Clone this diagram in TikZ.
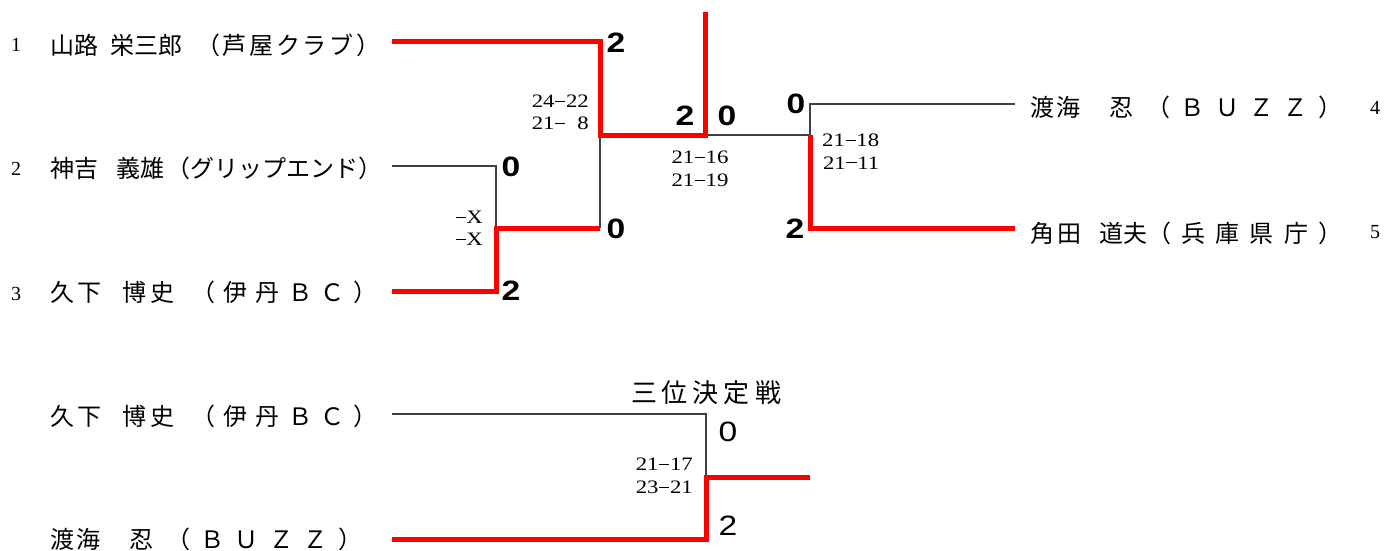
\documentclass[tikz,border=0pt]{standalone}
\usepackage{fontspec}
\usepackage{tikz}
\usetikzlibrary{calc}

\newfontfamily\jfont{Noto Sans CJK JP}
\newfontfamily\seedfont{Liberation Serif}
\newfontfamily\gamesfont{Liberation Serif}[FakeStretch=1.2]
\newfontfamily\ptsfont{Liberation Sans}[FakeStretch=1.2]

% spread the characters of #2 evenly over a box of width #1
\makeatletter
\newcommand\spreadbox[2]{\makebox[#1][s]{\@tfor\sp@ch:=#2\do{\sp@ch\hfil}\unskip}}
\makeatother
% name in a box of width #1, then the club spread over #3
\newcommand\entry[4]{\makebox[#1][l]{#2}\spreadbox{#3}{#4}}
% long dash of the game scores
\newcommand\gdash{\kern0.6pt\rule[5.6pt]{10.2pt}{1.2pt}\kern0.6pt}

\begin{document}
\begin{tikzpicture}[x=1pt, y=-1pt,
  win/.style={draw=red, line width=5pt},
  lose/.style={draw=black!75, line width=1.2pt},
  player/.style={anchor=base west, inner sep=0pt, font=\jfont\fontsize{24}{24}\selectfont},
  seed/.style={anchor=base, inner sep=0pt, font=\seedfont\fontsize{20}{20}\selectfont},
  pts/.style={inner sep=0pt, font=\ptsfont\bfseries\fontsize{28}{28}\selectfont},
  games/.style={inner sep=0pt, align=right, font=\gamesfont\fontsize{19}{22.5}\selectfont},
]
  \useasboundingbox (0,0) rectangle (1390,551);

  % Players.
  \node[player] (p1) at (50,55)   {\entry{146pt}{山路\kern12pt栄三郎}{184pt}{（芦屋クラブ）}};
  \node[player] (p2) at (50,177)  {\entry{116pt}{神吉\kern18pt義雄}{214pt}{（グリップエンド）}};
  \node[player] (p3) at (50,301)  {\entry{141pt}{久\kern3pt下\kern21pt博\kern4pt史}{186pt}{（伊丹ＢＣ）}};
  \node[player] (p4) at (1030,117) {\entry{116pt}{\spreadbox{103pt}{渡海　忍}}{196pt}{（ＢＵＺＺ）}};
  \node[player] (p5) at (1030,242) {\entry{117pt}{角\kern3pt田\kern18pt道夫}{195pt}{（兵庫県庁）}};
  \node[player] (p6) at (50,425)  {\entry{141pt}{久\kern3pt下\kern21pt博\kern4pt史}{186pt}{（伊丹ＢＣ）}};
  \node[player] (p7) at (50,548)  {\entry{116pt}{\spreadbox{103pt}{渡海　忍}}{196pt}{（ＢＵＺＺ）}};
  \foreach \x/\y/\t in {16/52/1, 16/175/2, 16/300/3, 1375/114/4, 1375/238/5}
    \node[seed] (s\t) at (\x,\y) {\t};

  % Line ends and junctions.
  \coordinate (e1) at (392,42);
  \coordinate (e2) at (392,166);
  \coordinate (e3) at (392,291);
  \coordinate (e4) at (1015,104);
  \coordinate (e5) at (1015,228);
  \coordinate (e6) at (392,414);
  \coordinate (e7) at (392,539);
  \coordinate (j23) at (496,228);
  \coordinate (j1) at (600,135);
  \coordinate (jf) at (705,135);
  \coordinate (j45) at (810,135);
  \coordinate (top) at (705,12);
  \coordinate (j67) at (706,477);
  \coordinate (w67) at (810,477);

  % Lost paths first, won paths on top.
  \draw[lose] (e2) -| (j23);
  \draw[lose] (j23 -| j1) -- (j1);
  \draw[lose] (jf) -- (j45) |- (e4);
  \draw[lose] (e6) -| (j67);
  \draw[win] (e3) -| (j23) -- (j23 -| j1);
  \draw[win] (e1) -| (j1) -- (jf) -- (top);
  \draw[win] (j45) |- (e5);
  \draw[win] (e7) -| (j67) -- (w67);

  % Match points.
  \foreach \x/\y/\t [count=\i] in {616/43/2, 511/167/0, 511/291/2, 616/229/0,
      685/116/2, 727/116/0, 796/104/0, 795/229/2}
    \node[pts] (r\i) at (\x,\y) {\t};
  \node[pts, font=\ptsfont\fontsize{28}{28}\selectfont] (r9) at (728,432) {0};
  \node[pts, font=\ptsfont\fontsize{28}{28}\selectfont] (r10) at (728,526) {2};

  % Game scores.
  \node[games, anchor=east] (g1) at (589,112.5) {24\gdash22\\21\gdash\hphantom{2}8};
  \node[games, anchor=east] (g2) at (483,228.5) {\gdash X\\\gdash X};
  \node[games] (g3) at (700,169) {21\gdash16\\21\gdash19};
  \node[games, anchor=west] (g4) at (822,151.5) {21\gdash18\\21\gdash11};
  \node[games, anchor=east] (g5) at (693,476) {21\gdash17\\23\gdash21};

  \node[player, anchor=center, font=\jfont\fontsize{26}{26}\selectfont] (third) at (706,393)
    {\spreadbox{150pt}{三位決定戦}};
\end{tikzpicture}
\end{document}
